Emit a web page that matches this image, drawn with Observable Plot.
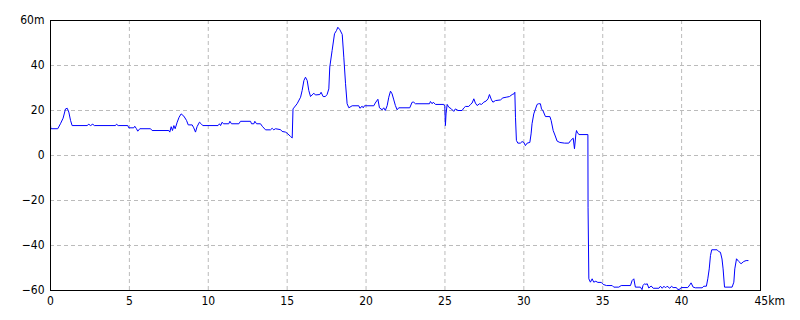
<!DOCTYPE html>
<html>
<head>
<meta charset="utf-8">
<script src="https://cdn.jsdelivr.net/npm/d3@7"></script>
<script src="https://cdn.jsdelivr.net/npm/@observablehq/plot@0.6"></script>
<style>
  html, body { margin: 0; padding: 0; background: #fff; }
</style>
</head>
<body>
<div id="chart"></div>
<script>
const distanceKm = [
  0, 0.02, 0.46, 0.63, 0.80, 0.95, 1.06, 1.16, 1.27, 1.37, 2.32, 2.43, 2.53, 2.68, 2.78, 4.12, 4.18, 4.29,
  4.90, 4.96, 5.28, 5.34, 5.44, 5.53, 5.66, 6.34, 6.44, 7.50, 7.56, 7.65, 7.73, 7.82, 7.90, 8.03, 8.15, 8.28,
  8.45, 8.62, 8.73, 8.98, 9.08, 9.19, 9.29, 9.44, 9.55, 9.65, 10.62, 10.71, 10.78, 10.88, 10.96, 11.30, 11.37,
  11.47, 11.94, 12.04, 12.68, 12.74, 12.89, 12.95, 13.06, 13.31, 13.42, 13.63, 13.94, 14.05, 14.15, 14.26,
  14.58, 14.68, 14.89, 15.0, 15.21, 15.32, 15.37, 15.63, 15.85, 15.95, 16.06, 16.16, 16.27, 16.37, 16.48,
  16.58, 16.69, 16.79, 17.07, 17.15, 17.28, 17.42, 17.53, 17.64, 17.70, 17.85, 18.0, 18.13, 18.21, 18.34,
  18.49, 18.59, 18.70, 18.80, 18.91, 19.12, 19.54, 19.61, 19.75, 19.82, 19.90, 20.49, 20.58, 20.75, 20.85,
  21.02, 21.12, 21.22, 21.34, 21.44, 21.55, 21.65, 21.76, 21.86, 21.97, 22.07, 22.77, 22.92, 23.02, 23.13,
  24.02, 24.08, 24.19, 24.26, 24.40, 24.93, 24.99, 25.03, 25.07, 25.14, 25.24, 25.41, 25.56, 25.66, 25.83,
  26.09, 26.19, 26.30, 26.51, 26.62, 26.72, 26.83, 26.93, 27.04, 27.19, 27.32, 27.46, 27.61, 27.73, 27.82,
  27.95, 28.04, 28.20, 28.52, 28.67, 28.88, 29.09, 29.26, 29.37, 29.43, 29.47, 29.53, 29.62, 29.78, 29.89,
  30.0, 30.10, 30.21, 30.38, 30.46, 30.52, 30.63, 30.74, 30.84, 30.93, 31.05, 31.12, 31.22, 31.37, 31.65,
  31.73, 31.86, 31.97, 32.11, 32.28, 32.58, 32.85, 32.96, 33.13, 33.21, 33.30, 33.34, 33.38, 33.49, 34.06,
  34.07, 34.12, 34.22, 34.33, 34.43, 34.56, 34.69, 34.91, 35.03, 35.24, 35.60, 35.70, 36.02, 36.17, 36.76,
  36.86, 36.97, 37.07, 37.39, 37.49, 37.55, 37.65, 37.73, 37.82, 37.92, 38.07, 38.20, 38.56, 38.66, 38.77,
  38.88, 38.98, 39.08, 39.25, 39.36, 39.46, 39.67, 39.76, 39.93, 39.97, 40.39, 40.52, 40.60, 40.73, 40.87,
  41.30, 41.41, 41.57, 41.66, 41.75, 41.83, 41.91, 42.25, 42.35, 42.46, 42.56, 42.63, 42.72, 43.20, 43.31,
  43.37, 43.48, 43.62, 43.77, 43.94, 44.09, 44.21
];
const elevationM = [
  13.6, 11.9, 11.9, 14.1, 16.6, 20.7, 21.0, 19.3, 15.6, 13.3, 13.3, 13.9, 13.3, 13.9, 13.3, 13.3, 13.9, 13.3,
  13.3, 12.3, 12.3, 13.0, 12.0, 10.8, 11.9, 11.9, 11.1, 11.1, 10.4, 12.8, 11.1, 13.3, 11.9, 14.8, 17.0, 18.5,
  17.5, 15.6, 13.6, 13.6, 12.3, 10.4, 12.8, 14.8, 14.1, 13.3, 13.3, 14.1, 13.3, 14.8, 14.1, 14.1, 15.2,
  14.1, 14.1, 15.2, 15.2, 14.1, 14.1, 15.2, 14.1, 14.1, 13.0, 11.4, 11.4, 12.1, 11.4, 11.9,
  11.5, 10.7, 10.4, 9.9, 8.5, 7.8, 20.7, 23.0, 25.9, 28.9, 33.3, 34.8, 33.3, 28.9, 26.2,
  26.9, 27.7, 26.9, 27.1, 28.1, 26.2, 26.2, 27.1, 29.6, 39.3, 46.7, 54.1, 55.6, 57.0, 55.9,
  53.8, 43.7, 31.9, 23.0, 21.2, 22.1, 22.1, 21.0, 21.9, 21.2, 22.1, 22.1, 23.3, 25.0, 21.2,
  20.3, 21.2, 20.0, 22.2, 25.9, 28.6, 27.4, 24.7, 22.2, 20.3, 21.2, 21.2, 23.7, 23.7, 23.0,
  23.0, 24.0, 23.0, 23.7, 22.7, 22.7, 21.8, 13.3, 18.5, 22.7, 21.5, 20.7, 19.6, 20.7, 20.0,
  20.0, 21.1, 21.8, 21.8, 22.7, 23.3, 25.2, 23.3, 22.2, 23.0, 22.7, 23.7, 24.2, 25.2, 27.1,
  24.7, 23.7, 24.4, 24.7, 25.6, 25.9, 26.2, 27.1, 27.4, 28.1, 17.0, 6.7, 5.5, 5.5, 6.2,
  5.8, 4.4, 5.5, 5.8, 9.6, 14.1, 18.5, 20.7, 22.7, 23.0, 23.0, 20.7, 19.8, 17.3, 17.3,
  15.6, 11.1, 9.1, 6.4, 5.8, 5.5, 5.5, 6.6, 7.7, 3.0, 9.6, 11.1, 10.4, 9.3, 9.3,
  -23.0, -54.8, -56.3, -54.8, -56.3, -55.9, -56.4, -56.4, -57.3, -57.8, -57.8, -58.5, -58.5, -57.8, -57.8,
  -55.6, -54.8, -58.5, -58.5, -59.6, -57.8, -57.0, -57.3, -57.0, -58.9, -58.0, -59.0, -59.0, -58.1, -59.0,
  -58.1, -58.8, -58.1, -59.0, -58.1, -58.7, -58.7, -59.6, -59.3, -58.7, -58.7, -57.5, -56.6, -58.5, -58.8,
  -58.8, -58.1, -58.1, -54.8, -50.4, -44.4, -41.9, -41.9, -42.7, -43.0, -46.0, -50.4, -58.5, -58.5, -56.3,
  -50.4, -45.9, -47.1, -48.1, -47.1, -46.7, -46.7
];
const xTickValues = [0, 5, 10, 15, 20, 25, 30, 35, 40];
const xEndTick = [45];
const xEndLabel = "45km";
const yTickValues = [-60, -40, -20, 0, 20, 40, 60];
const yTopLabel = "60m";

const profile = distanceKm.map((km, i) => ({km, m: elevationM[i]}));
const fmtY = d => d === 60 ? yTopLabel : (d < 0 ? "\u2212" + Math.abs(d) : String(d));

const chart = Plot.plot({
  width: 800,
  height: 320,
  marginLeft: 50,
  marginRight: 40,
  marginTop: 20,
  marginBottom: 30,
  style: {
    fontFamily: "'Liberation Sans Narrow', 'DejaVu Sans Condensed', sans-serif",
    fontSize: "12px",
    background: "white",
    color: "black"
  },
  x: {domain: [0, 45], label: null},
  y: {domain: [-60, 60], label: null},
  marks: [
    Plot.ruleX(xTickValues.slice(1), {stroke: "#bbbbbb", strokeDasharray: "4,3"}),
    Plot.ruleY(yTickValues.slice(1, -1), {stroke: "#bbbbbb", strokeDasharray: "4,3"}),
    Plot.axisY(yTickValues, {tickSize: 0, tickPadding: 6, tickFormat: fmtY}),
    Plot.axisX(xTickValues, {tickSize: 0, tickPadding: 6, tickFormat: d => String(d)}),
    Plot.axisX(xEndTick, {tickSize: 0, tickPadding: 6, tickFormat: () => xEndLabel, textAnchor: "start", dx: -6}),
    Plot.line(profile, {x: "km", y: "m", stroke: "#0000ff", strokeWidth: 1}),
    Plot.frame({stroke: "black"})
  ]
});
document.getElementById("chart").appendChild(chart);
</script>
</body>
</html>
